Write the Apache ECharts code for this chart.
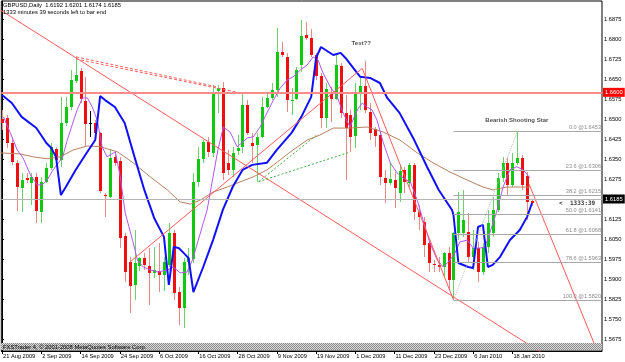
<!DOCTYPE html>
<html>
<head>
<meta charset="utf-8">
<script src="https://cdn.jsdelivr.net/npm/echarts@6/dist/echarts.min.js"></script>
<style>
  html, body { margin: 0; padding: 0; background: #fff; }
  #chart { width: 625px; height: 362px; }
</style>
</head>
<body>
<div id="chart"></div>
<script>
// GBPUSD daily bars, 21 Aug 2009 .. 22 Jan 2010 (bar index 0..108)
const opens = [
  1.6500, 1.6504, 1.6411, 1.6336, 1.6241, 1.6279, 1.6260, 1.6283, 1.6151, 1.6264,
  1.6317, 1.6388, 1.6347, 1.6485, 1.6545, 1.6643, 1.6680, 1.6568, 1.6485, 1.6485,
  1.6448, 1.6215, 1.6208, 1.6358, 1.6343, 1.6061, 1.5964, 1.5878, 1.5949, 1.5979,
  1.5949, 1.5923, 1.5930, 1.5915, 1.5953, 1.6073, 1.5851, 1.5791, 1.5964, 1.5975,
  1.6264, 1.6351, 1.6414, 1.6373, 1.6605, 1.6616, 1.6336, 1.6309, 1.6381, 1.6396,
  1.6553, 1.6411, 1.6403, 1.6433, 1.6545, 1.6579, 1.6609, 1.6751, 1.6733, 1.6571,
  1.6575, 1.6703, 1.6815, 1.6804, 1.6740, 1.6661, 1.6504, 1.6598, 1.6575, 1.6699,
  1.6523, 1.6515, 1.6436, 1.6601, 1.6624, 1.6526, 1.6463, 1.6440, 1.6279, 1.6260,
  1.6271, 1.6223, 1.6309, 1.6260, 1.6328, 1.6151, 1.6114, 1.6035, 1.5956, 1.5953,
  1.5945, 1.5998, 1.5896, 1.6073, 1.6073, 1.6076, 1.5983, 1.6016, 1.5926, 1.6020,
  1.6073, 1.6159, 1.6279, 1.6336, 1.6253, 1.6336, 1.6354, 1.6286, 1.6192
];
const highs = [
  1.6534, 1.6515, 1.6429, 1.6347, 1.6298, 1.6298, 1.6298, 1.6298, 1.6283, 1.6336,
  1.6411, 1.6396, 1.6583, 1.6583, 1.6684, 1.6733, 1.6691, 1.6658, 1.6530, 1.6496,
  1.6451, 1.6223, 1.6388, 1.6369, 1.6358, 1.6073, 1.5983, 1.6084, 1.5983, 1.5998,
  1.6016, 1.6020, 1.6035, 1.5983, 1.6110, 1.6084, 1.5871, 1.5979, 1.6016, 1.6298,
  1.6396, 1.6421, 1.6433, 1.6628, 1.6628, 1.6639, 1.6384, 1.6396, 1.6440, 1.6598,
  1.6571, 1.6448, 1.6448, 1.6583, 1.6601, 1.6635, 1.6841, 1.6789, 1.6748, 1.6616,
  1.6695, 1.6871, 1.6864, 1.6838, 1.6748, 1.6673, 1.6635, 1.6620, 1.6740, 1.6710,
  1.6590, 1.6534, 1.6635, 1.6661, 1.6718, 1.6560, 1.6470, 1.6451, 1.6309, 1.6339,
  1.6301, 1.6328, 1.6321, 1.6336, 1.6336, 1.6178, 1.6133, 1.6046, 1.5971, 1.5983,
  1.6001, 1.6020, 1.6076, 1.6226, 1.6234, 1.6148, 1.6084, 1.6039, 1.6035, 1.6159,
  1.6208, 1.6298, 1.6358, 1.6358, 1.6373, 1.6453, 1.6366, 1.6301, 1.6201
];
const lows = [
  1.6459, 1.6392, 1.6328, 1.6155, 1.6151, 1.6260, 1.6178, 1.6110, 1.6110, 1.6260,
  1.6309, 1.6321, 1.6321, 1.6474, 1.6534, 1.6635, 1.6560, 1.6396, 1.6433, 1.6421,
  1.6223, 1.6133, 1.6204, 1.6324, 1.6016, 1.5889, 1.5773, 1.5821, 1.5930, 1.5934,
  1.5803, 1.5904, 1.5851, 1.5855, 1.5945, 1.5821, 1.5728, 1.5716, 1.5915, 1.5960,
  1.6245, 1.6336, 1.6358, 1.6358, 1.6523, 1.6271, 1.6290, 1.6283, 1.6366, 1.6373,
  1.6440, 1.6336, 1.6264, 1.6429, 1.6541, 1.6571, 1.6583, 1.6733, 1.6526, 1.6515,
  1.6571, 1.6676, 1.6796, 1.6733, 1.6646, 1.6466, 1.6466, 1.6489, 1.6571, 1.6504,
  1.6271, 1.6377, 1.6392, 1.6534, 1.6523, 1.6421, 1.6396, 1.6253, 1.6185, 1.6253,
  1.6166, 1.6189, 1.6223, 1.6245, 1.6121, 1.6084, 1.5983, 1.5926, 1.5926, 1.5926,
  1.5908, 1.5859, 1.5820, 1.6046, 1.6058, 1.5960, 1.5934, 1.5889, 1.5915, 1.5998,
  1.6058, 1.6151, 1.6264, 1.6215, 1.6245, 1.6328, 1.6234, 1.6121, 1.6174
];
const closes = [
  1.6485, 1.6411, 1.6339, 1.6245, 1.6271, 1.6271, 1.6283, 1.6155, 1.6264, 1.6317,
  1.6396, 1.6347, 1.6485, 1.6545, 1.6646, 1.6665, 1.6575, 1.6481, 1.6485, 1.6448,
  1.6230, 1.6211, 1.6354, 1.6336, 1.6054, 1.5926, 1.5874, 1.5960, 1.5979, 1.5953,
  1.5923, 1.5934, 1.5915, 1.5964, 1.6073, 1.5848, 1.5791, 1.5964, 1.5979, 1.6264,
  1.6351, 1.6414, 1.6377, 1.6601, 1.6616, 1.6298, 1.6309, 1.6373, 1.6392, 1.6553,
  1.6448, 1.6399, 1.6433, 1.6545, 1.6579, 1.6609, 1.6751, 1.6740, 1.6571, 1.6572,
  1.6684, 1.6811, 1.6804, 1.6740, 1.6661, 1.6504, 1.6613, 1.6575, 1.6703, 1.6523,
  1.6466, 1.6433, 1.6601, 1.6624, 1.6534, 1.6448, 1.6436, 1.6283, 1.6260, 1.6275,
  1.6241, 1.6305, 1.6264, 1.6328, 1.6151, 1.6133, 1.6028, 1.5960, 1.5953, 1.5945,
  1.5998, 1.5896, 1.6073, 1.6151, 1.6121, 1.5983, 1.6016, 1.5926, 1.6020, 1.6110,
  1.6159, 1.6279, 1.6336, 1.6253, 1.6336, 1.6354, 1.6253, 1.6189, 1.6185
];

// indicator lines: [bar index, price]
const blueLine = [
  [0, 1.6590], [2, 1.6560], [4, 1.6508], [7, 1.6466], [9, 1.6411], [10, 1.6392], [11, 1.6358],
  [12, 1.6215], [13, 1.6245], [15, 1.6309], [17, 1.6366], [19, 1.6421], [20, 1.6586], [21, 1.6571],
  [23, 1.6545], [25, 1.6485], [27, 1.6358], [29, 1.6234], [31, 1.6129], [33, 1.6058], [34, 1.5878],
  [35, 1.6020], [36, 1.6016], [37, 1.5998], [38, 1.5979], [39, 1.5851], [41, 1.5945], [43, 1.6046],
  [45, 1.6159], [47, 1.6245], [49, 1.6309], [51, 1.6328], [54, 1.6336], [56, 1.6384], [59, 1.6448],
  [61, 1.6508], [63, 1.6583], [64, 1.6729], [65, 1.6770], [67.5, 1.6740], [69, 1.6748], [70, 1.6729],
  [71.6, 1.6691], [73, 1.6658], [75, 1.6654], [77, 1.6635], [78.5, 1.6579], [81, 1.6523], [84, 1.6421],
  [86.6, 1.6321], [89, 1.6234], [91.7, 1.6159], [92, 1.6140], [93, 1.5960], [95, 1.5945], [96, 1.5941],
  [97, 1.6095], [98, 1.6103], [99, 1.5945], [100, 1.5953], [101.5, 1.5983], [103.5, 1.6046],
  [105.5, 1.6084], [107, 1.6133], [108, 1.6185]
];
const purpleLine = [
  [0.3, 1.6508], [1.7, 1.6448], [3.1, 1.6384], [4.3, 1.6354], [5.8, 1.6290], [7.2, 1.6253], [8.2, 1.6253],
  [9.2, 1.6271], [10.4, 1.6309], [11.5, 1.6336], [12.3, 1.6354], [13.3, 1.6421], [14.3, 1.6478],
  [15.3, 1.6534], [16.4, 1.6579], [17.4, 1.6579], [18.4, 1.6545], [19.4, 1.6496], [20.4, 1.6396],
  [21.4, 1.6358], [23.1, 1.6377], [24.1, 1.6283], [25.1, 1.6148], [26.6, 1.6046], [27.6, 1.5971],
  [28.8, 1.5945], [30.2, 1.5934], [31.8, 1.5926], [33.7, 1.5934], [34.9, 1.5945], [36.3, 1.5923],
  [37.7, 1.5926], [38.8, 1.5971], [40, 1.6046], [41.8, 1.6159], [43, 1.6283], [44, 1.6384],
  [45.1, 1.6470], [46.5, 1.6451], [47.9, 1.6396], [48.9, 1.6411], [50, 1.6429], [51.2, 1.6433],
  [52.6, 1.6470], [54, 1.6523], [55.3, 1.6571], [56.7, 1.6616], [58.1, 1.6646], [59.3, 1.6658],
  [60.8, 1.6684], [62.2, 1.6703], [63.4, 1.6733], [64.4, 1.6721], [65.4, 1.6673], [66.9, 1.6620],
  [68.3, 1.6583], [69.5, 1.6523], [70.9, 1.6470], [72.4, 1.6534], [73.4, 1.6560], [74.4, 1.6545],
  [75.4, 1.6534], [76.4, 1.6496], [77.7, 1.6411], [79.1, 1.6336], [80.5, 1.6298], [81.7, 1.6279],
  [83.2, 1.6264], [84.6, 1.6196], [85.8, 1.6121], [87.2, 1.6035], [88.7, 1.5971], [89.9, 1.5945],
  [91.3, 1.5971], [92.3, 1.5998], [93.3, 1.6039], [94.8, 1.6046], [96, 1.6016], [97.4, 1.6016],
  [98.4, 1.6020], [99.4, 1.6073], [100.9, 1.6159], [102.1, 1.6245], [103.5, 1.6309], [104.9, 1.6321],
  [106.2, 1.6309], [107.6, 1.6279]
];
const brownLine = [
  [-0.3, 1.6373], [3.7, 1.6369], [6.4, 1.6358], [9.2, 1.6351], [11.9, 1.6358], [14.5, 1.6384],
  [17.4, 1.6399], [20, 1.6396], [23.5, 1.6377], [26.7, 1.6336], [30.2, 1.6283], [33.7, 1.6234],
  [36.3, 1.6189], [38.4, 1.6181], [40.4, 1.6196], [43, 1.6226], [45.9, 1.6245], [48.5, 1.6264],
  [51.2, 1.6283], [54, 1.6309], [56.7, 1.6347], [59.3, 1.6384], [62.2, 1.6421], [64.8, 1.6440],
  [67.5, 1.6466], [70.9, 1.6466], [74.4, 1.6470], [77.7, 1.6451], [81.1, 1.6421], [84.6, 1.6373],
  [87.8, 1.6336], [91.3, 1.6301], [94.8, 1.6271], [98, 1.6245], [100, 1.6234], [102.9, 1.6245],
  [105.6, 1.6245], [107.6, 1.6245]
];

// hand-drawn objects: [bar index, price] anchors
const trendDown = [[-0.35, 1.6909], [110, 1.5623]];
const trendUp = [[26.1, 1.5964], [73.4, 1.6690]];
const channelA = [[73.4, 1.6690], [92, 1.5822]];
const channelB = [[107.4, 1.6256], [121.2, 1.5634]];
const dashRed1 = [[15.1, 1.6733], [44.0, 1.6620]];
const dashRed2 = [[15.1, 1.6725], [48.5, 1.6598]];
const dashGreen1 = [[52.3, 1.6265], [64.4, 1.6444]];
const dashGreen2 = [[52.3, 1.6265], [70.9, 1.6376]];
const fibSwing = [[92, 1.5820], [105, 1.6453]];

const fibLevels = ["0.0", "23.6", "38.2", "50.0", "61.8", "78.6", "100.0"];
const fibPrices = [1.6453, 1.6306, 1.6215, 1.6141, 1.6068, 1.5963, 1.5820];
const fibStart = 92;

const resistance = 1.6600;
const lastPrice = 1.6185;

const priceTicks = [
  1.5675, 1.5750, 1.5825, 1.5900, 1.5975, 1.6050, 1.6125, 1.6200, 1.6275,
  1.6350, 1.6425, 1.6500, 1.6575, 1.6650, 1.6725, 1.6800, 1.6875
];
const dateTickIdx = [0, 8, 16, 24, 32, 40, 48, 56, 64, 72, 80, 88, 96, 104];
const dateLabels = [
  "21 Aug 2009", "2 Sep 2009", "14 Sep 2009", "24 Sep 2009", "6 Oct 2009", "16 Oct 2009",
  "28 Oct 2009", "9 Nov 2009", "19 Nov 2009", "1 Dec 2009", "11 Dec 2009", "23 Dec 2009",
  "6 Jan 2010", "18 Jan 2010"
];

const notes = [
  { name: "Test??", value: [73.2, 1.6785] },
  { name: "Bearish Shooting Star", value: [104.9, 1.6496] },
];
const timerNote = { name: "<  1333:39", value: [117.2, 1.6185] };

const XMIN = -0.14, XMAX = 122.26;
const FONT = "Liberation Sans";
const GREEN = "#10C810", RED = "#EE1010";
const GREEN_WICK = "#6CD06C", RED_WICK = "#E88888";

const chart = echarts.init(document.getElementById("chart"), null, { renderer: "canvas" });

function renderCandle(params, api) {
  const i = api.value(0);
  const o = api.value(1), h = api.value(2), l = api.value(3), c = api.value(4);
  const pH = api.coord([i, h]), pL = api.coord([i, l]);
  const pO = api.coord([i, o]), pC = api.coord([i, c]);
  const x = Math.round(pH[0]);
  const flat = c === o;
  const up = c > o;
  const body = flat ? "#000" : up ? GREEN : RED;
  const wick = flat ? "#000" : up ? GREEN_WICK : RED_WICK;
  const y1 = Math.round(Math.min(pO[1], pC[1]));
  const y2 = Math.round(Math.max(pO[1], pC[1]));
  return {
    type: "group",
    children: [
      { type: "line", shape: { x1: x + 0.5, y1: Math.round(pH[1]), x2: x + 0.5, y2: Math.round(pL[1]) }, style: { stroke: wick, lineWidth: 1 } },
      flat
        ? { type: "line", shape: { x1: x - 1, y1: y1 + 0.5, x2: x + 2, y2: y1 + 0.5 }, style: { stroke: "#000", lineWidth: 1 } }
        : { type: "rect", shape: { x: x - 1, y: y1, width: 3, height: Math.max(1, y2 - y1) }, style: { fill: body } },
    ],
  };
}

function lineSeries(pts, color, width, type, z) {
  return {
    type: "line",
    data: pts,
    symbol: "none",
    silent: true,
    animation: false,
    clip: true,
    z: z || 3,
    lineStyle: { color: color, width: width, type: type || "solid" },
  };
}

const hatch = document.createElement("canvas");
hatch.width = 2;
hatch.height = 2;
const hctx = hatch.getContext("2d");
hctx.fillStyle = "#dcdcdc";
hctx.fillRect(0, 0, 2, 2);
hctx.fillStyle = "#8a8a8a";
hctx.fillRect(0, 0, 1, 1);
hctx.fillRect(1, 1, 1, 1);

const fibMarks = fibPrices.map((p, k) => [
  {
    coord: [fibStart, p],
    lineStyle: { color: "#A8A8A8", width: 1, type: "solid" },
    label: {
      show: true,
      position: "insideEndTop",
      formatter: fibLevels[k] + " @" + p.toFixed(4),
      color: "#8C8C8C",
      fontFamily: FONT,
      fontSize: 5.6,
      distance: 1,
    },
  },
  { coord: [XMAX, p] },
]);

const levelLabel = (bg, text) => ({
  show: true,
  position: "end",
  color: "#fff",
  backgroundColor: bg,
  fontFamily: FONT,
  fontSize: 5.8,
  padding: [2, 2, 1, 2],
  distance: 1,
  formatter: text,
});

const option = {
  animation: false,
  backgroundColor: "#fff",
  grid: { left: 1, right: 23, top: 1, bottom: 11, show: true, borderColor: "#000", borderWidth: 1 },
  xAxis: {
    type: "value",
    min: XMIN,
    max: XMAX,
    z: 0,
    splitLine: { show: false },
    axisLine: { show: true, lineStyle: { color: "#000", width: 1 } },
    axisTick: { show: true, customValues: dateTickIdx, length: 3, lineStyle: { color: "#000" } },
    axisLabel: {
      customValues: dateTickIdx,
      formatter: (v) => dateLabels[dateTickIdx.indexOf(Math.round(v))] || "",
      align: "left",
      margin: 2,
      padding: [0, 0, 0, 1],
      color: "#000",
      fontFamily: FONT,
      fontSize: 5.7,
    },
  },
  yAxis: {
    type: "value",
    position: "right",
    min: 1.5630,
    max: 1.69425,
    z: 0,
    splitLine: { show: false },
    axisLine: { show: true, lineStyle: { color: "#000", width: 1 } },
    axisTick: { show: true, customValues: priceTicks, length: 2, lineStyle: { color: "#000" } },
    axisLabel: {
      customValues: priceTicks,
      formatter: (v) => v.toFixed(4),
      margin: 2,
      color: "#000",
      fontFamily: FONT,
      fontSize: 5.7,
    },
  },
  series: [
    lineSeries(brownLine, "#B8805E", 1),
    Object.assign(lineSeries(fibSwing, "#C0C0C0", 1, "dotted", 20), {
      markLine: {
        silent: true,
        symbol: ["none", "none"],
        animation: false,
        data: [
          { yAxis: resistance, lineStyle: { color: "#FF8A8A", width: 2, type: "solid" }, label: levelLabel("#FF0000", resistance.toFixed(4)) },
          { yAxis: lastPrice, lineStyle: { color: "#B4B4B4", width: 1, type: "solid" }, label: levelLabel("#000", lastPrice.toFixed(4)) },
        ].concat(fibMarks),
      },
    }),
    {
      type: "custom",
      renderItem: renderCandle,
      data: opens.map((o, i) => [i, o, highs[i], lows[i], closes[i]]),
      encode: { x: 0, y: [1, 2, 3, 4] },
      silent: true,
      animation: false,
      clip: true,
      z: 2,
    },
    lineSeries(purpleLine, "#B455EE", 1),
    lineSeries(blueLine, "#1010FF", 2),
    lineSeries(trendDown, "#FF5A5A", 1),
    lineSeries(trendUp, "#FF5A5A", 1),
    lineSeries(channelA, "#FF5A5A", 1),
    lineSeries(channelB, "#FF5A5A", 1),
    lineSeries(dashRed1, "#FF6060", 1, [3, 2]),
    lineSeries(dashRed2, "#FF6060", 1, [3, 2]),
    lineSeries(dashGreen1, "#40B040", 1, [2, 2]),
    lineSeries(dashGreen2, "#40B040", 1, [2, 2]),
    {
      type: "scatter",
      data: notes,
      symbolSize: 1,
      itemStyle: { color: "rgba(0,0,0,0)" },
      silent: true,
      z: 6,
      label: {
        show: true,
        position: "inside",
        formatter: (p) => p.name,
        color: "#222",
        fontFamily: FONT,
        fontWeight: "bold",
        fontSize: 6,
      },
    },
    {
      type: "scatter",
      data: [timerNote],
      symbolSize: 1,
      itemStyle: { color: "rgba(0,0,0,0)" },
      silent: true,
      z: 6,
      label: {
        show: true,
        position: "inside",
        formatter: (p) => p.name,
        color: "#000",
        fontFamily: "DejaVu Sans Mono",
        fontWeight: "bold",
        fontSize: 6,
      },
    },
  ],
  graphic: [
    {
      type: "text",
      left: 3,
      top: 2,
      z: 10,
      style: { text: "GBPUSD,Daily  1.6192 1.6201 1.6174 1.6185", fill: "#000", font: "5.8px " + FONT },
    },
    {
      type: "text",
      left: 3,
      top: 9,
      z: 10,
      style: { text: "1333 minutes 39 seconds left to bar end", fill: "#000", font: "5.8px " + FONT },
    },
    {
      type: "rect",
      left: 1,
      top: 343,
      z: 10,
      shape: { width: 601, height: 7 },
      style: { fill: { image: hatch, repeat: "repeat" } },
    },
    {
      type: "text",
      left: 3,
      top: 344,
      z: 11,
      style: { text: "FXSTrader 4, © 2001-2008 MetaQuotes Software Corp.", fill: "#000", font: "5.8px " + FONT },
    },
  ],
};

chart.setOption(option);
window.addEventListener("resize", () => chart.resize());
</script>
</body>
</html>
